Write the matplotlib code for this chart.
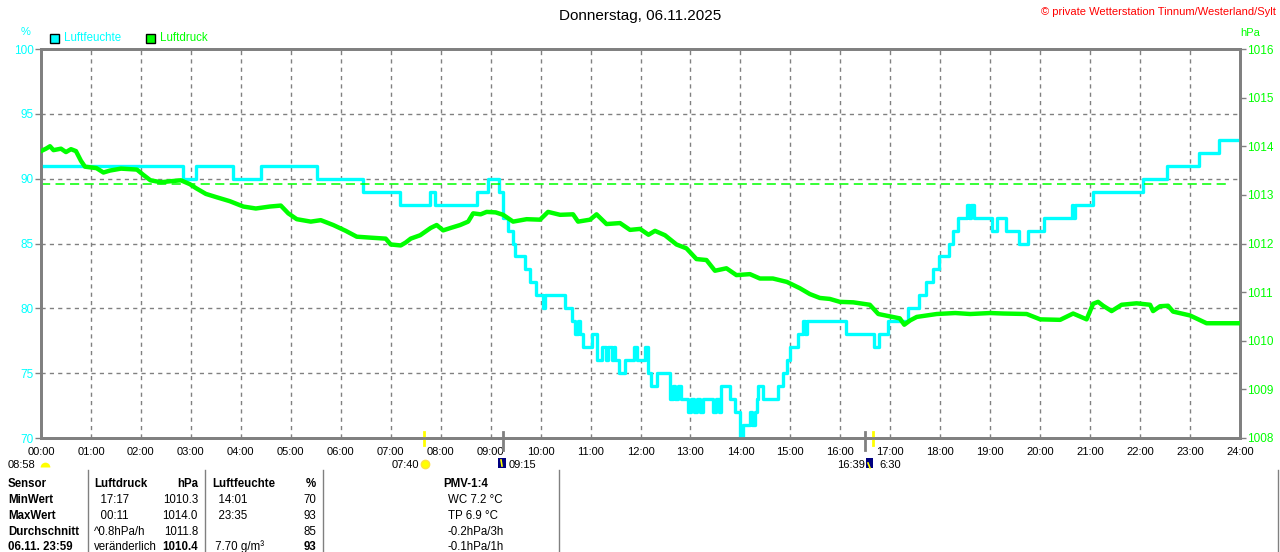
import matplotlib.pyplot as plt
from matplotlib.patches import Rectangle

plt.rcParams['font.family'] = ['Liberation Sans', 'DejaVu Sans']

# Luftfeuchte (%), Stufen: Startzeit in Stunden und Wert
hum_hours = [0.00, 2.84, 3.10, 3.85, 4.40, 5.52, 6.45, 7.19, 7.79, 7.89,
             8.72, 8.95, 9.17, 9.25, 9.35, 9.45, 9.49, 9.69, 9.79, 9.91,
             10.04, 10.08, 10.49, 10.62, 10.69, 10.74, 10.78, 10.85, 11.02, 11.12,
             11.22, 11.30, 11.34, 11.42, 11.46, 11.49, 11.56, 11.69, 11.86, 11.92,
             12.09, 12.16, 12.22, 12.34, 12.59, 12.65, 12.70, 12.76, 12.82, 12.96,
             13.02, 13.08, 13.14, 13.20, 13.26, 13.46, 13.52, 13.58, 13.62, 13.79,
             13.89, 14.00, 14.06, 14.19, 14.23, 14.29, 14.33, 14.36, 14.46, 14.76,
             14.86, 14.93, 14.99, 15.16, 15.26, 15.30, 15.33, 16.11, 16.67, 16.77,
             16.96, 17.36, 17.58, 17.72, 17.85, 17.98, 18.18, 18.25, 18.36, 18.54,
             18.58, 18.62, 18.67, 19.03, 19.13, 19.31, 19.58, 19.76, 20.08, 20.63,
             20.66, 20.70, 21.06, 22.06, 22.53, 23.17, 23.58, 24.00]
hum_values = [91, 90, 91, 90, 91, 90, 89, 88, 89, 88,
              89, 90, 89, 87, 86, 85, 84, 83, 82, 81,
              80, 81, 80, 79, 78, 79, 78, 77, 78, 76,
              77, 76, 77, 76, 77, 76, 75, 76, 77, 76,
              77, 75, 74, 75, 73, 74, 73, 74, 73, 72,
              73, 72, 73, 72, 73, 72, 73, 72, 74, 73,
              72, 70, 71, 72, 71, 72, 73, 74, 73, 74,
              75, 76, 77, 78, 79, 78, 79, 78, 77, 78,
              79, 80, 81, 82, 83, 84, 85, 86, 87, 88,
              87, 88, 87, 86, 87, 86, 85, 86, 87, 88,
              87, 88, 89, 90, 91, 92, 93, 93]

# Luftdruck (hPa)
press_hours = [0.00, 0.10, 0.18, 0.25, 0.40, 0.50, 0.60, 0.70, 0.80, 0.88,
               1.11, 1.25, 1.38, 1.60, 1.92, 2.05, 2.19, 2.40, 2.59, 2.80,
               2.98, 3.10, 3.30, 3.52, 3.78, 4.05, 4.30, 4.58, 4.80, 4.95,
               5.12, 5.40, 5.60, 5.85, 6.10, 6.32, 6.60, 6.90, 7.00, 7.20,
               7.30, 7.40, 7.59, 7.80, 7.92, 8.05, 8.20, 8.39, 8.55, 8.65,
               8.80, 8.92, 9.10, 9.25, 9.45, 9.72, 9.99, 10.15, 10.39, 10.65,
               10.75, 10.99, 11.12, 11.32, 11.59, 11.79, 11.99, 12.16, 12.29, 12.49,
               12.72, 12.92, 13.12, 13.32, 13.49, 13.72, 13.92, 14.19, 14.39, 14.65,
               14.93, 15.19, 15.39, 15.59, 15.79, 15.99, 16.26, 16.59, 16.76, 17.00,
               17.19, 17.28, 17.40, 17.53, 17.93, 18.30, 18.60, 19.00, 19.26, 19.73,
               20.00, 20.40, 20.66, 20.93, 21.06, 21.16, 21.26, 21.43, 21.63, 21.93,
               22.20, 22.26, 22.40, 22.56, 22.66, 23.00, 23.33, 23.66, 24.00]
press_values = [1013.90, 1013.95, 1014.00, 1013.92, 1013.95, 1013.88, 1013.94, 1013.90, 1013.70, 1013.58,
                1013.55, 1013.46, 1013.50, 1013.54, 1013.52, 1013.41, 1013.30, 1013.26, 1013.28, 1013.30,
                1013.22, 1013.14, 1013.02, 1012.95, 1012.87, 1012.76, 1012.72, 1012.76, 1012.78, 1012.62,
                1012.50, 1012.45, 1012.48, 1012.38, 1012.26, 1012.14, 1012.12, 1012.10, 1011.98, 1011.96,
                1012.02, 1012.10, 1012.17, 1012.32, 1012.38, 1012.27, 1012.32, 1012.38, 1012.45, 1012.62,
                1012.60, 1012.65, 1012.64, 1012.59, 1012.45, 1012.50, 1012.49, 1012.65, 1012.59, 1012.60,
                1012.45, 1012.49, 1012.60, 1012.40, 1012.42, 1012.28, 1012.30, 1012.18, 1012.26, 1012.17,
                1011.98, 1011.90, 1011.68, 1011.66, 1011.44, 1011.49, 1011.35, 1011.37, 1011.28, 1011.28,
                1011.21, 1011.08, 1010.96, 1010.88, 1010.86, 1010.80, 1010.79, 1010.74, 1010.55, 1010.50,
                1010.46, 1010.33, 1010.42, 1010.49, 1010.55, 1010.57, 1010.55, 1010.57, 1010.56, 1010.55,
                1010.44, 1010.43, 1010.56, 1010.44, 1010.76, 1010.80, 1010.72, 1010.61, 1010.74, 1010.77,
                1010.74, 1010.61, 1010.71, 1010.72, 1010.60, 1010.52, 1010.36, 1010.36, 1010.36]
press_ref = 1013.22

hour_labels = ['%02d:00' % h for h in range(25)]
hum_ticks = [70, 75, 80, 85, 90, 95, 100]
press_ticks = [1008, 1009, 1010, 1011, 1012, 1013, 1014, 1015, 1016]

sun_times = [7 + 40 / 60, 16 + 39 / 60]
moon_times = [9 + 15 / 60, 16 + 30 / 60]

table_rows = [
    ['Sensor', 'Luftdruck', 'hPa', 'Luftfeuchte', '%', 'PMV-1:4'],
    ['MinWert', '  17:17', '1010.3', '  14:01', '70', 'WC 7.2 °C'],
    ['MaxWert', '  00:11', '1014.0', '  23:35', '93', 'TP 6.9 °C'],
    ['Durchschnitt', '^0.8hPa/h', '1011.8', '', '85', '-0.2hPa/3h'],
    ['06.11. 23:59', 'veränderlich', '1010.4', ' 7.70 g/m³', '93', '-0.1hPa/1h'],
]

CYAN = '#00ffff'
GREEN = '#00ff00'
GRAY = '#808080'
YELLOW = '#ffff00'
NAVY = '#000080'

W, H = 1280, 552
fig = plt.figure(figsize=(W / 100, H / 100), dpi=100)


def fx(px):
    return px / W


def fy(py):
    return 1 - py / H


ax = fig.add_axes([fx(41), fy(438), fx(1240) - fx(41), fy(49) - fy(438)])
ax2 = ax.twinx()

ax.set_xlim(0, 24)
ax.set_ylim(70, 100)
ax2.set_ylim(1008, 1016)

ax.set_xticks(range(25))
ax.set_xticklabels(hour_labels)
ax.set_yticks(hum_ticks)
ax2.set_yticks(press_ticks)
ax.tick_params(axis='x', length=0, pad=6.5, labelsize=8, labelcolor='black')
ax.tick_params(axis='y', length=4, width=1, color=GRAY, pad=1, labelsize=8.5, labelcolor=CYAN)
ax2.tick_params(axis='y', length=4, width=1, color=GRAY, pad=1, labelsize=8.5, labelcolor=GREEN)

ax.grid(True, color=GRAY, linestyle=(0, (3, 3)), linewidth=1)
ax.set_axisbelow(True)
for a in (ax, ax2):
    for s in a.spines.values():
        s.set_color(GRAY)
        s.set_linewidth(2)

ax.plot(hum_hours, hum_values, drawstyle='steps-post', color=CYAN, linewidth=2.4, zorder=3)
ax2.plot(press_hours, press_values, color=GREEN, linewidth=3.2, zorder=3)
ax2.axhline(press_ref, xmin=0, xmax=(1230 - 41) / 1199, color=GREEN,
            linestyle=(0, (6, 3.5)), linewidth=1.1)

# Sonnen- und Mondmarken an der Zeitachse
xt = ax.get_xaxis_transform()
for t in sun_times:
    ax.plot([t, t], [0.016, -0.018], color=YELLOW, linewidth=2, transform=xt, clip_on=False, zorder=5)
for t in moon_times:
    ax.plot([t, t], [0.016, -0.031], color=GRAY, linewidth=2, transform=xt, clip_on=False, zorder=5)

# Titel, Legende, Einheiten
fig.text(0.5, fy(16), 'Donnerstag, 06.11.2025', ha='center', va='center', fontsize=11)
fig.text(fx(1276), fy(12), '© private Wetterstation Tinnum/Westerland/Sylt', ha='right', va='center',
         fontsize=8, color='red')
fig.text(fx(26), fy(32), '%', ha='center', va='center', fontsize=8, color=CYAN)
fig.text(fx(1250), fy(33), 'hPa', ha='center', va='center', fontsize=8, color=GREEN)
for x0, col, lab in [(50, CYAN, 'Luftfeuchte'), (146, GREEN, 'Luftdruck')]:
    fig.patches.append(Rectangle((fx(x0), fy(43)), 9 / W, 9 / H, transform=fig.transFigure,
                                 facecolor=col, edgecolor='black', linewidth=1))
    fig.text(fx(x0 + 14), fy(38), lab, ha='left', va='center', fontsize=8.3, color=col)

# Zeiten unter der Achse
sub_y = fy(465)
fig.text(fx(8), sub_y, '08:58', ha='left', va='center', fontsize=8)
fig.add_artist(plt.Line2D([fx(45)], [fy(467)], marker='o', markersize=7, fillstyle='top',
                          markerfacecolor=YELLOW, markerfacecoloralt='none',
                          markeredgecolor='none', linestyle='none'))
fig.text(fx(419), sub_y, '07:40', ha='right', va='center', fontsize=8)
fig.add_artist(plt.Line2D([fx(424.5)], [fy(464)], marker='o', markersize=6,
                          markerfacecolor=YELLOW, markeredgecolor='#ffe040', linestyle='none'))
fig.patches.append(Rectangle((fx(498), fy(468)), 8 / W, 10 / H, transform=fig.transFigure,
                             facecolor=NAVY, edgecolor='none'))
fig.add_artist(plt.Line2D([fx(501), fx(502)], [fy(460), fy(466)], color=YELLOW, linewidth=1.2))
fig.text(fx(509), sub_y, '09:15', ha='left', va='center', fontsize=8)
fig.text(fx(865), sub_y, '16:39', ha='right', va='center', fontsize=8)
fig.patches.append(Rectangle((fx(866), fy(468)), 7 / W, 10 / H, transform=fig.transFigure,
                             facecolor=NAVY, edgecolor='none'))
fig.add_artist(plt.Line2D([fx(868), fx(870)], [fy(463), fy(468)], color=YELLOW, linewidth=1.2))
fig.text(fx(879), sub_y, '6:30', ha='left', va='center', fontsize=8)

# Tabelle
for xs in [88, 205, 323, 559, 1278]:
    fig.add_artist(plt.Line2D([fx(xs), fx(xs)], [fy(470), 0], color=GRAY, linewidth=1))

col_x = [8, 94, 198, 212, 316, 448]
col_ha = ['left', 'left', 'right', 'left', 'right', 'left']
row_y = [484, 500, 516, 532, 547]
for r, row in enumerate(table_rows):
    for c, txt in enumerate(row):
        bold = r == 0 or c == 0 or (r == 4 and c in (2, 4))
        x = col_x[c]
        if r == 0 and c == 5:
            x = 466
            ha = 'center'
        else:
            ha = col_ha[c]
        fig.text(fx(x), fy(row_y[r]), txt, ha=ha, va='center', fontsize=8.3,
                 fontweight='bold' if bold else 'normal')

fig.savefig('out.png', dpi=100)
